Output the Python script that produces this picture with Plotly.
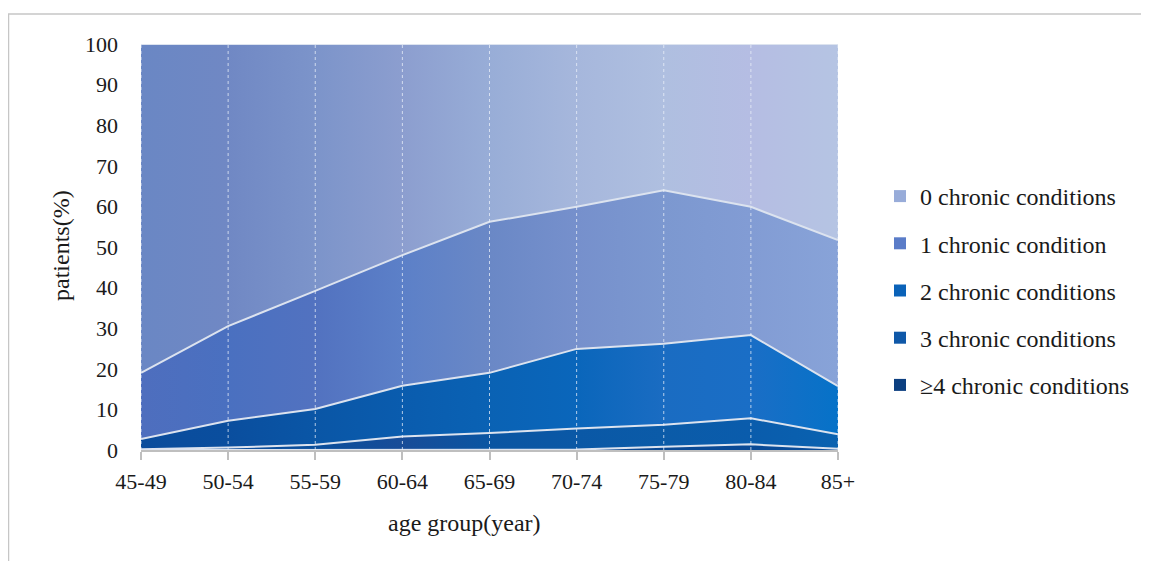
import plotly.graph_objects as go

age_groups = ["45-49", "50-54", "55-59", "60-64", "65-69", "70-74", "75-79", "80-84", "85+"]
series_names = ["≥4 chronic conditions", "3 chronic conditions", "2 chronic conditions",
                "1 chronic condition", "0 chronic conditions"]

cc4 = [0.0, 0.0, 0.0, 0.0, 0.0, 0.1, 0.8, 1.4, 0.3]
cc3 = [0.2, 0.6, 1.3, 3.3, 4.2, 5.2, 5.4, 6.4, 3.6]
cc2 = [2.5, 6.6, 8.8, 12.5, 14.8, 19.6, 20.0, 20.5, 11.8]
cc1 = [16.3, 23.3, 29.1, 32.2, 37.2, 35.0, 37.8, 31.6, 36.0]
cc0 = [81.0, 69.5, 60.8, 52.0, 43.8, 40.1, 36.0, 40.1, 48.3]
values = [cc4, cc3, cc2, cc1, cc0]

y_ticks = list(range(0, 101, 10))

# gradient colours per layer (left -> right)
grad = [
    ["#0a3c80", "#0a3d82", "#0b3e84", "#0c4088", "#0c428a", "#0b448e", "#0a4892", "#0a4a96", "#0a4c98"],
    ["#0a4a98", "#0a4c9a", "#0a4e9c", "#184c98", "#0a55a2", "#0a58a6", "#0b5ba8", "#0a5cac", "#0a62b0"],
    ["#0a4c9c", "#0a4e9e", "#0a56a6", "#0a5cae", "#0a62b4", "#0a66bb", "#1a6cc2", "#1a6ec6", "#0672c8"],
    ["#4e6ebe", "#4a70c0", "#5272c0", "#5c80c8", "#6a88c6", "#7690cc", "#7c98d0", "#829cd4", "#88a3d8"],
    ["#6a87c4", "#7088c4", "#7c94ca", "#8c9ecf", "#98add7", "#a6b7dc", "#afbfe0", "#b5bde3", "#b5c4e3"],
]
legend_colors = ["#0c3f80", "#0f58a8", "#0a62b8", "#5a7cc8", "#98acd9"]

FONT = "Liberation Serif"
n = len(age_groups)

fig = go.Figure()
for i, (name, vals) in enumerate(zip(series_names, values)):
    cs = [[k / (n - 1), c] for k, c in enumerate(grad[i])]
    fig.add_trace(go.Scatter(
        x=age_groups, y=vals, name=name, stackgroup="one", mode="lines",
        line=dict(color="#dce3ef", width=2),
        fillgradient=dict(type="horizontal", colorscale=cs),
        showlegend=False, hoverinfo="x+y+name",
    ))

# legend entries (top to bottom: 0 ... ≥4)
for k, i in enumerate(reversed(range(len(series_names)))):
    fig.add_trace(go.Scatter(
        x=[None], y=[None], name=series_names[i], mode="markers",
        marker=dict(symbol="square", size=12, color=legend_colors[i]),
        legendgroup=f"g{k}", showlegend=True,
    ))

# vertical dotted grid lines over the areas
for cat in age_groups:
    fig.add_shape(type="line", xref="x", yref="y", x0=cat, x1=cat, y0=0, y1=100,
                  line=dict(color="rgba(235,240,250,0.75)", width=1, dash="dot"), layer="above")

OFF = 8  # page body margin
W, H = 1149 - OFF, 561 - OFF
L, R, T, B = 141 - OFF, 838 - OFF, 44 - OFF, 450 - OFF
def px2x(p): return (p - OFF - L) / (R - L)
def px2y(p): return (B - (p - OFF)) / (B - T)

# chart border (top and left)
fig.add_shape(type="line", xref="paper", yref="paper", x0=px2x(8), x1=px2x(1160),
              y0=px2y(14), y1=px2y(14), line=dict(color="#c6c6c6", width=1.5))
fig.add_shape(type="line", xref="paper", yref="paper", x0=px2x(8.5), x1=px2x(8.5),
              y0=px2y(14), y1=px2y(570), line=dict(color="#c6c6c6", width=1.5))

fig.add_annotation(text="patients(%)", xref="paper", yref="paper", x=px2x(61), y=px2y(246),
                   textangle=-90, showarrow=False, xanchor="center", yanchor="middle",
                   font=dict(family=FONT, size=24, color="#1a1a1a"))
fig.add_annotation(text="age group(year)", xref="paper", yref="paper", x=px2x(464), y=px2y(523),
                   showarrow=False, xanchor="center", yanchor="middle",
                   font=dict(family=FONT, size=24, color="#1a1a1a"))

fig.update_layout(
    width=W, height=H,
    margin=dict(l=L, r=W - R, t=T, b=H - B, autoexpand=False),
    paper_bgcolor="white", plot_bgcolor="white",
    font=dict(family=FONT, size=22, color="#1a1a1a"),
    showlegend=True,
    legend=dict(x=px2x(880), y=px2y(174), xanchor="left", yanchor="top",
                font=dict(family=FONT, size=24, color="#1a1a1a"),
                traceorder="grouped", tracegroupgap=13, bgcolor="rgba(0,0,0,0)"),
    xaxis=dict(type="category", range=[0, n - 1], showgrid=False, showline=True,
               linecolor="#bfbfbf", linewidth=2, ticks="outside", ticklen=8,
               tickcolor="#bfbfbf", tickwidth=2, layer="above traces",
               ticklabelstandoff=3,
               tickfont=dict(family=FONT, size=22, color="#1a1a1a"), zeroline=False),
    yaxis=dict(range=[0, 100], tickvals=y_ticks, showgrid=False, showline=False,
               ticks="", zeroline=False, ticklabelstandoff=22,
               tickfont=dict(family=FONT, size=22, color="#1a1a1a")),
    hovermode="closest",
)

fig.write_html("out.html")
